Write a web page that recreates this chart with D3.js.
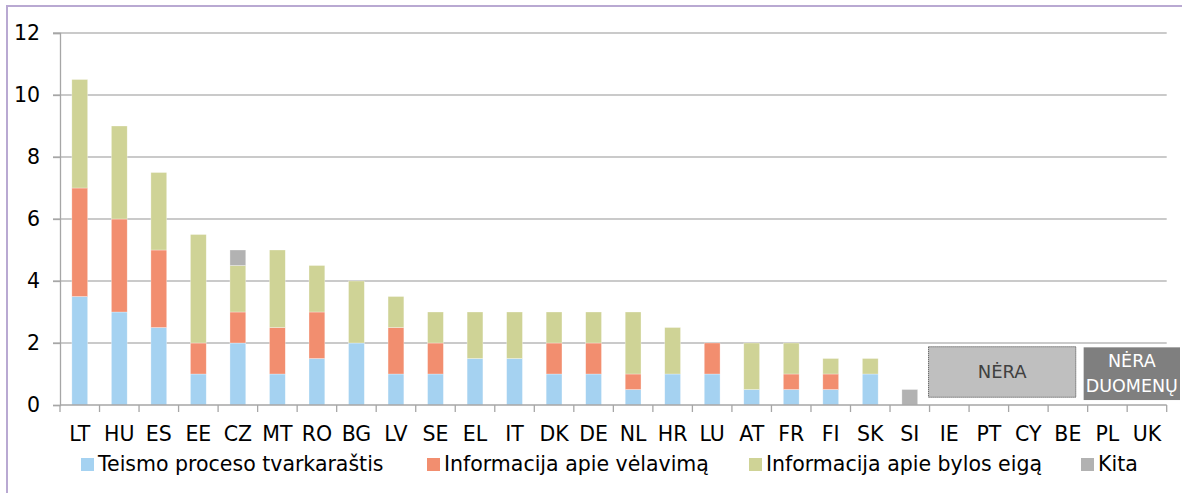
<!DOCTYPE html>
<html lang="lt">
<head>
<meta charset="UTF-8">
<script src="https://cdn.jsdelivr.net/npm/d3@7"></script>
<style>
  body { margin: 0; background: #fff; }
  svg text { font-family: "DejaVu Sans", sans-serif; }
</style>
</head>
<body>
<svg id="chart" width="1182" height="493"></svg>
<script>
// data
const countries = ["LT","HU","ES","EE","CZ","MT","RO","BG","LV","SE","EL","IT","DK","DE",
                   "NL","HR","LU","AT","FR","FI","SK","SI","IE","PT","CY","BE","PL","UK"];
const teismo   = [3.5, 3, 2.5, 1, 2, 1, 1.5, 2, 1, 1, 1.5, 1.5, 1, 1, 0.5, 1, 1, 0.5, 0.5, 0.5, 1, 0, 0, 0, 0, 0, 0, 0];
const velavimas= [3.5, 3, 2.5, 1, 1, 1.5, 1.5, 0, 1.5, 1, 0, 0, 1, 1, 0.5, 0, 1, 0, 0.5, 0.5, 0, 0, 0, 0, 0, 0, 0, 0];
const eiga     = [3.5, 3, 2.5, 3.5, 1.5, 2.5, 1.5, 2, 1, 1, 1.5, 1.5, 1, 1, 2, 1.5, 0, 1.5, 1, 0.5, 0.5, 0, 0, 0, 0, 0, 0, 0];
const kita     = [0, 0, 0, 0, 0.5, 0, 0, 0, 0, 0, 0, 0, 0, 0, 0, 0, 0, 0, 0, 0, 0, 0.5, 0, 0, 0, 0, 0, 0];
const seriesNames = ["Teismo proceso tvarkaraštis", "Informacija apie vėlavimą", "Informacija apie bylos eigą", "Kita"];
const colors = ["#a5d2f1", "#f28e6f", "#cfd396", "#b2b2b2"];
const yTicks = [0, 2, 4, 6, 8, 10, 12];
const noneGroup = ["IE","PT","CY","BE"];
const noDataGroup = ["PL","UK"];

const svg = d3.select("#chart");
const plotL = 60, plotR = 1166.7, plotT = 33, plotB = 405;
const fontSize = 20.5;

// frame
svg.append("path")
  .attr("d", `M7,493 V6 H1182`)
  .attr("fill", "none").attr("stroke", "#b9a9d2").attr("stroke-width", 2);

const x = d3.scaleBand().domain(countries).range([plotL, plotR]).paddingInner(0.6).paddingOuter(0.3);
const xStep = d3.scaleBand().domain(countries).range([plotL, plotR]).padding(0);
const y = d3.scaleLinear().domain([0, 12]).range([plotB, plotT]);

// gridlines
svg.append("g").selectAll("line").data(yTicks.filter(d => d > 0)).join("line")
  .attr("x1", plotL - 7).attr("x2", plotR)
  .attr("y1", d => y(d)).attr("y2", d => y(d))
  .attr("stroke", "#b8b8b8").attr("stroke-width", 1.3);

// y axis
const yAxis = svg.append("g").attr("transform", `translate(${plotL},0)`)
  .call(d3.axisLeft(y).tickValues(yTicks).tickSize(7).tickPadding(13));
yAxis.select(".domain").attr("stroke", "#a6a6a6").attr("stroke-width", 1.3);
yAxis.selectAll(".tick line").attr("stroke", "#a6a6a6").attr("stroke-width", 1.3);
yAxis.selectAll("text").attr("font-size", fontSize).attr("fill", "#000")
  .attr("font-family", "'DejaVu Sans', sans-serif");

// stacked bars
const rows = countries.map((c, i) => ({ country: c, s0: teismo[i], s1: velavimas[i], s2: eiga[i], s3: kita[i] }));
const stack = d3.stack().keys(["s0", "s1", "s2", "s3"])(rows);
svg.append("g").selectAll("g").data(stack).join("g")
  .attr("fill", (d, i) => colors[i])
  .selectAll("rect").data(d => d.filter(v => v[1] - v[0] > 0)).join("rect")
  .attr("x", d => x(d.data.country))
  .attr("width", x.bandwidth())
  .attr("y", d => y(d[1]))
  .attr("height", d => y(d[0]) - y(d[1]))
  .attr("stroke", "#ffffff").attr("stroke-opacity", 0.5).attr("stroke-width", 0.6);

// x axis
svg.append("line").attr("x1", plotL).attr("x2", plotR).attr("y1", plotB).attr("y2", plotB)
  .attr("stroke", "#a6a6a6").attr("stroke-width", 1.5);
const bounds = countries.map(c => xStep(c)).concat([plotR]);
svg.append("g").selectAll("line").data(bounds).join("line")
  .attr("x1", d => d).attr("x2", d => d).attr("y1", plotB).attr("y2", plotB + 7)
  .attr("stroke", "#a6a6a6").attr("stroke-width", 1.3);
svg.append("g").selectAll("text").data(countries).join("text")
  .attr("x", d => xStep(d) + xStep.bandwidth() / 2)
  .attr("y", 441)
  .attr("text-anchor", "middle")
  .attr("font-size", fontSize).attr("fill", "#000")
  .text(d => d);

// NĖRA box
const nx0 = xStep(noneGroup[0]) - 1, nx1 = xStep(noneGroup[noneGroup.length - 1]) + xStep.bandwidth() * 0.7;
svg.append("rect").attr("x", nx0).attr("y", y(1.88)).attr("width", nx1 - nx0).attr("height", y(0.25) - y(1.88))
  .attr("fill", "#bfbfbf").attr("stroke", "#404040").attr("stroke-width", 1).attr("stroke-dasharray", "1,1");
svg.append("text").attr("x", (nx0 + nx1) / 2).attr("y", y(0.87)).attr("text-anchor", "middle")
  .attr("font-size", 18).attr("fill", "#404040").text("NĖRA");

// NĖRA DUOMENŲ box
const dx0 = xStep(noDataGroup[0]) - 4, dx1 = 1180;
svg.append("rect").attr("x", dx0).attr("y", y(1.86)).attr("width", dx1 - dx0).attr("height", y(0.16) - y(1.86))
  .attr("fill", "#7f7f7f");
svg.append("text").attr("x", (dx0 + dx1) / 2).attr("y", y(1.23)).attr("text-anchor", "middle")
  .attr("font-size", 17.5).attr("fill", "#fff").text("NĖRA");
svg.append("text").attr("x", (dx0 + dx1) / 2).attr("y", y(0.43)).attr("text-anchor", "middle")
  .attr("font-size", 17.5).attr("fill", "#fff").text("DUOMENŲ");

// legend
const legendX = [81, 427, 749, 1081];
const lg = svg.append("g").selectAll("g").data(seriesNames).join("g")
  .attr("transform", (d, i) => `translate(${legendX[i]},458)`);
lg.append("rect").attr("width", 13).attr("height", 13).attr("fill", (d, i) => colors[i]);
lg.append("text").attr("x", 17).attr("y", 13).attr("font-size", fontSize).attr("fill", "#000").text(d => d);
</script>
</body>
</html>
